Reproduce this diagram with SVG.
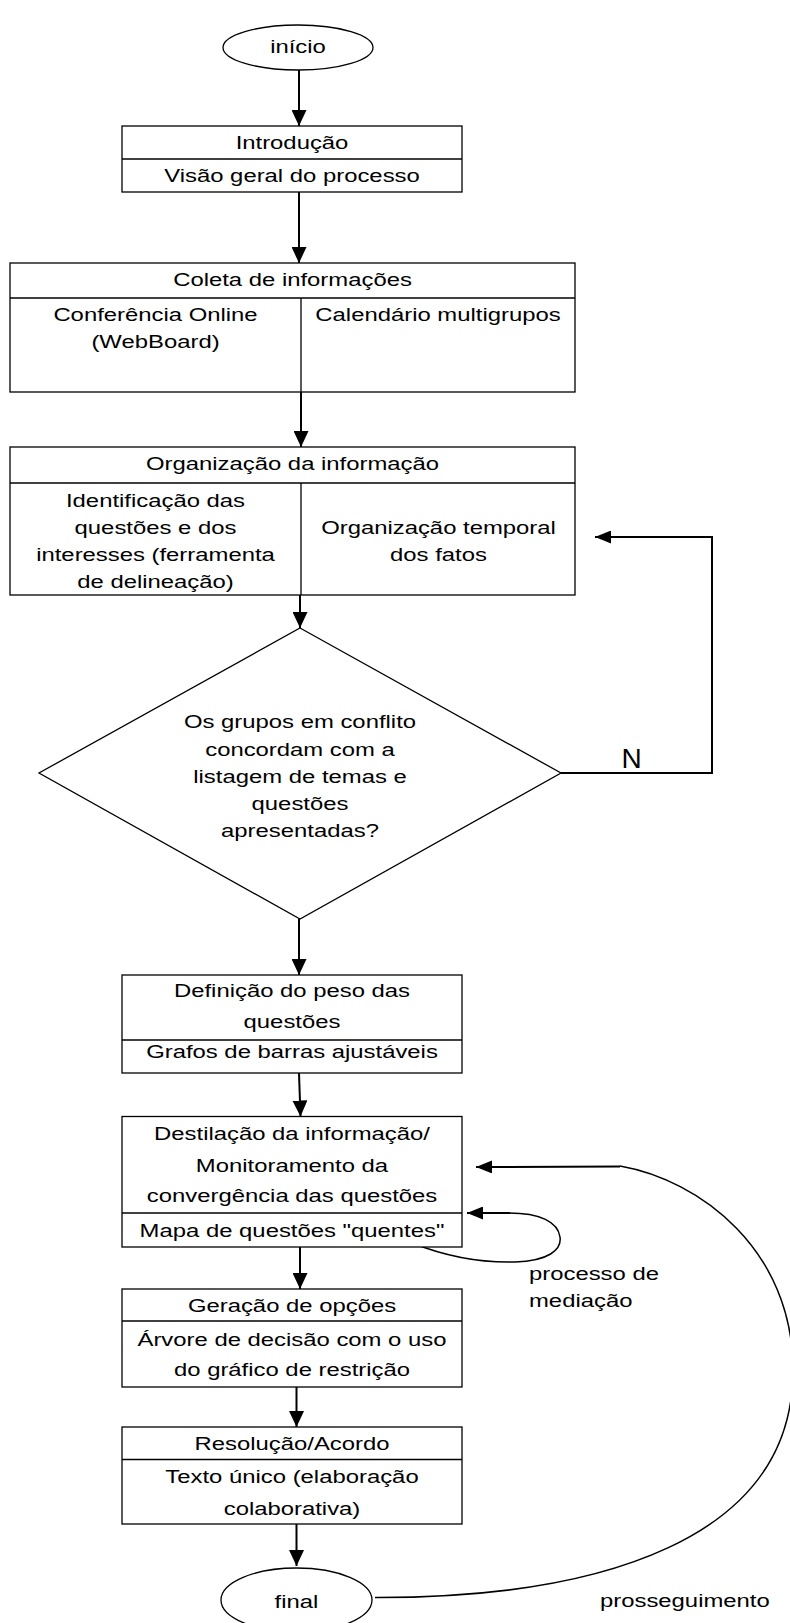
<svg xmlns="http://www.w3.org/2000/svg" width="790" height="1623" viewBox="0 0 790 1623">
<defs>
<style>
.box{fill:#fff;stroke:#000;stroke-width:1.3}
.div{stroke:#000;stroke-width:1.3;fill:none}
.t{font-family:"Liberation Sans",Arial,sans-serif;font-size:18.5px;text-anchor:middle;fill:#000}
.ts{font-family:"Liberation Sans",Arial,sans-serif;font-size:18.5px;text-anchor:start;fill:#000}
.c{stroke:#000;stroke-width:2;fill:none}
.cv{stroke:#000;stroke-width:1.5;fill:none}
</style>
<marker id="ah" markerUnits="userSpaceOnUse" markerWidth="16" markerHeight="15" refX="16" refY="7.5" orient="auto">
<path d="M0,0 L16,7.5 L0,15 Z" fill="#000"/>
</marker>
<marker id="ah2" markerUnits="userSpaceOnUse" markerWidth="16" markerHeight="13" refX="16" refY="6.5" orient="auto">
<path d="M0,0 L16,6.5 L0,13 Z" fill="#000"/>
</marker>
</defs>
<rect width="790" height="1623" fill="#fff"/>

<g id="connectors">
<path class="c" d="M299,70 V126" marker-end="url(#ah)"/>
<path class="c" d="M299,192 V263" marker-end="url(#ah)"/>
<path class="c" d="M301,392 V447" marker-end="url(#ah)"/>
<path class="c" d="M300,595 V628" marker-end="url(#ah)"/>
<path class="c" d="M299,919 V975" marker-end="url(#ah)"/>
<path class="c" d="M299,1073 L300.5,1116.5" marker-end="url(#ah)"/>
<path class="c" d="M300,1247 V1289" marker-end="url(#ah)"/>
<path class="c" d="M296.5,1387 V1427" marker-end="url(#ah)"/>
<path class="c" d="M296.5,1524 V1566" marker-end="url(#ah)"/>
<path class="c" d="M561,773 H712 V537 H595" marker-end="url(#ah2)"/>
<path class="cv" d="M375,1597.5 C600,1598 793,1540 793,1370 C793,1250 700,1180 620,1166"/>
<path class="c" d="M620,1166.5 L476,1167" marker-end="url(#ah2)"/>
<path class="cv" d="M412,1243 C445,1256 480,1263 515,1262 C548,1261 562,1250 560,1237 C558,1222 540,1213 509,1213"/>
<path class="c" d="M510,1213 L467,1213" marker-end="url(#ah2)"/>
</g>

<g id="inicio">
<ellipse class="box" cx="298" cy="47.5" rx="75" ry="22.5"/>
<text class="t" transform="matrix(1.29 0 0 1 298 53)">início</text>
</g>

<g id="introducao">
<rect class="box" x="122" y="126" width="340" height="66"/>
<line class="div" x1="122" y1="159" x2="462" y2="159"/>
<text class="t" transform="matrix(1.29 0 0 1 292 149)">Introdução</text>
<text class="t" transform="matrix(1.29 0 0 1 292 182)">Visão geral do processo</text>
</g>

<g id="coleta">
<rect class="box" x="10" y="263" width="565" height="129"/>
<line class="div" x1="10" y1="298" x2="575" y2="298"/>
<line class="div" x1="301" y1="298" x2="301" y2="392"/>
<text class="t" transform="matrix(1.29 0 0 1 292.5 286)">Coleta de informações</text>
<text class="t" transform="matrix(1.29 0 0 1 155.5 321)">Conferência Online</text>
<text class="t" transform="matrix(1.29 0 0 1 155.5 348)">(WebBoard)</text>
<text class="t" transform="matrix(1.29 0 0 1 438 321)">Calendário multigrupos</text>
</g>

<g id="organizacao">
<rect class="box" x="10" y="447" width="565" height="148"/>
<line class="div" x1="10" y1="483" x2="575" y2="483"/>
<line class="div" x1="301" y1="483" x2="301" y2="595"/>
<text class="t" transform="matrix(1.29 0 0 1 292.5 470)">Organização da informação</text>
<text class="t" transform="matrix(1.29 0 0 1 155.5 507)">Identificação das</text>
<text class="t" transform="matrix(1.29 0 0 1 155.5 534)">questões e dos</text>
<text class="t" transform="matrix(1.29 0 0 1 155.5 561)">interesses (ferramenta</text>
<text class="t" transform="matrix(1.29 0 0 1 155.5 588)">de delineação)</text>
<text class="t" transform="matrix(1.29 0 0 1 438.5 534)">Organização temporal</text>
<text class="t" transform="matrix(1.29 0 0 1 438.5 561)">dos fatos</text>
</g>

<g id="decisao">
<polygon class="box" points="300,628 561,773 300,919 39,773"/>
<text class="t" transform="matrix(1.29 0 0 1 300 728)">Os grupos em conflito</text>
<text class="t" transform="matrix(1.29 0 0 1 300 755.5)">concordam com a</text>
<text class="t" transform="matrix(1.29 0 0 1 300 783)">listagem de temas e</text>
<text class="t" transform="matrix(1.29 0 0 1 300 810)">questões</text>
<text class="t" transform="matrix(1.29 0 0 1 300 837)">apresentadas?</text>
</g>

<g id="label-n">
<text class="t" x="631.5" y="768" style="font-size:28px">N</text>
</g>

<g id="definicao">
<rect class="box" x="122" y="975" width="340" height="98"/>
<line class="div" x1="122" y1="1040" x2="462" y2="1040"/>
<text class="t" transform="matrix(1.29 0 0 1 292 997)">Definição do peso das</text>
<text class="t" transform="matrix(1.29 0 0 1 292 1028)">questões</text>
<text class="t" transform="matrix(1.29 0 0 1 292 1058)">Grafos de barras ajustáveis</text>
</g>

<g id="destilacao">
<rect class="box" x="122" y="1116.5" width="340" height="130.5"/>
<line class="div" x1="122" y1="1213" x2="462" y2="1213"/>
<text class="t" transform="matrix(1.29 0 0 1 292 1140)">Destilação da informação/</text>
<text class="t" transform="matrix(1.29 0 0 1 292 1171.5)">Monitoramento da</text>
<text class="t" transform="matrix(1.29 0 0 1 292 1202)">convergência das questões</text>
<text class="t" transform="matrix(1.29 0 0 1 292 1237)">Mapa de questões "quentes"</text>
</g>

<g id="label-mediacao">
<text class="ts" transform="matrix(1.29 0 0 1 529 1280)">processo de</text>
<text class="ts" transform="matrix(1.29 0 0 1 529 1307)">mediação</text>
</g>

<g id="geracao">
<rect class="box" x="122" y="1289" width="340" height="98"/>
<line class="div" x1="122" y1="1321" x2="462" y2="1321"/>
<text class="t" transform="matrix(1.29 0 0 1 292 1312)">Geração de opções</text>
<text class="t" transform="matrix(1.29 0 0 1 292 1346)">Árvore de decisão com o uso</text>
<text class="t" transform="matrix(1.29 0 0 1 292 1376)">do gráfico de restrição</text>
</g>

<g id="resolucao">
<rect class="box" x="122" y="1427" width="340" height="97"/>
<line class="div" x1="122" y1="1459.5" x2="462" y2="1459.5"/>
<text class="t" transform="matrix(1.29 0 0 1 292 1450)">Resolução/Acordo</text>
<text class="t" transform="matrix(1.29 0 0 1 292 1483)">Texto único (elaboração</text>
<text class="t" transform="matrix(1.29 0 0 1 292 1515)">colaborativa)</text>
</g>

<g id="final">
<ellipse class="box" cx="296.5" cy="1600" rx="75.5" ry="32"/>
<text class="t" transform="matrix(1.29 0 0 1 296.5 1608)">final</text>
</g>

<g id="label-prosseguimento">
<text class="ts" transform="matrix(1.29 0 0 1 600 1607)">prosseguimento</text>
</g>
</svg>
